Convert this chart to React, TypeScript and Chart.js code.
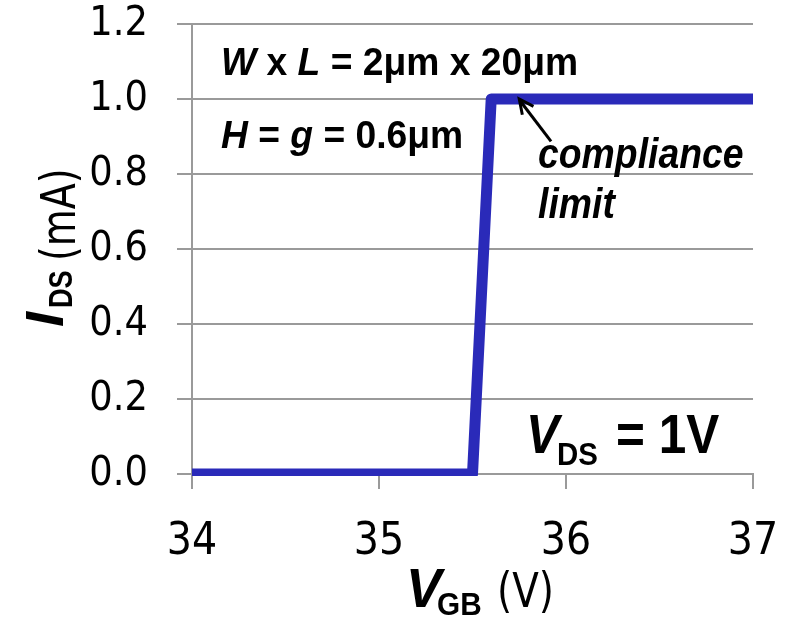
import React, { useEffect, useRef } from "react";
import { Chart, registerables } from "chart.js";

Chart.register(...registerables);

// ---- data ----
const vgbValues = [34, 35.5, 35.6, 37]; // V_GB (V)
const idsValues = [0, 0, 1.0, 1.0]; // I_DS (mA)
const xTickValues = [34, 35, 36, 37];
const yTickValues = [0, 0.2, 0.4, 0.6, 0.8, 1.0, 1.2];
const arrowTip = { x: 35.75, y: 1.0 };
const arrowTail = { x: 35.92, y: 0.887 };

const LINE_COLOR = "#2A2AB9";
const GRID_COLOR = "#9a9a9a";
const TICK_FONT = "'DejaVu Sans Condensed', 'DejaVu Sans', sans-serif";
const ARIAL = "'Liberation Sans', Arial, sans-serif";

type Run = { t: string; font: string; dx?: number; dy?: number; sx?: number };

function drawRuns(
  ctx: CanvasRenderingContext2D,
  runs: Run[],
  x: number,
  y: number,
  sxDefault: number
) {
  let cx = 0;
  for (const r of runs) {
    const sx = r.sx ?? sxDefault;
    ctx.font = r.font;
    const px = r.dx !== undefined ? r.dx : cx;
    ctx.save();
    ctx.translate(x + px, y + (r.dy || 0));
    ctx.scale(sx, 1);
    ctx.fillText(r.t, 0, 0);
    ctx.restore();
    cx = px + ctx.measureText(r.t).width * sx;
  }
}

const annotationPlugin = {
  id: "annotations",
  afterDraw(chart: any) {
    const ctx: CanvasRenderingContext2D = chart.ctx;
    const xs = chart.scales.x;
    const ys = chart.scales.y;
    ctx.save();
    ctx.fillStyle = "#000";
    ctx.textBaseline = "alphabetic";
    ctx.textAlign = "left";

    // W x L text
    const f39b = `bold 39px ${ARIAL}`;
    const f39bi = `italic bold 39px ${ARIAL}`;
    drawRuns(
      ctx,
      [
        { t: "W", font: f39bi },
        { t: " x ", font: f39b },
        { t: "L", font: f39bi },
        { t: " = 2\u03BCm x 20\u03BCm", font: f39b },
      ],
      221,
      75,
      0.955
    );
    drawRuns(
      ctx,
      [
        { t: "H", font: f39bi },
        { t: " = ", font: f39b },
        { t: "g", font: f39bi },
        { t: " = 0.6\u03BCm", font: f39b },
      ],
      221,
      148,
      0.955
    );

    // compliance limit
    const f42bi = `italic bold 42px ${ARIAL}`;
    drawRuns(ctx, [{ t: "compliance", font: f42bi }], 538, 168, 0.89);
    drawRuns(ctx, [{ t: "limit", font: f42bi }], 538, 218, 0.89);

    // arrow
    const tx = xs.getPixelForValue(arrowTip.x);
    const ty = ys.getPixelForValue(arrowTip.y);
    const sxp = xs.getPixelForValue(arrowTail.x);
    const syp = ys.getPixelForValue(arrowTail.y);
    ctx.strokeStyle = "#000";
    ctx.lineWidth = 3;
    ctx.lineCap = "butt";
    ctx.beginPath();
    ctx.moveTo(sxp, syp);
    ctx.lineTo(tx + 1, ty + 2);
    ctx.stroke();
    const ang = Math.atan2(ty - syp, tx - sxp);
    const hl = 16;
    ctx.beginPath();
    ctx.moveTo(tx + hl * Math.cos(ang + Math.PI - 0.45), ty + hl * Math.sin(ang + Math.PI - 0.45));
    ctx.lineTo(tx, ty);
    ctx.lineTo(tx + hl * Math.cos(ang + Math.PI + 0.45), ty + hl * Math.sin(ang + Math.PI + 0.45));
    ctx.stroke();

    // V_DS = 1V
    drawRuns(
      ctx,
      [
        { t: "V", font: `italic bold 55px ${ARIAL}`, dx: 0 },
        { t: "DS", font: `bold 32px ${ARIAL}`, dx: 31, dy: 12, sx: 0.92 },
        { t: "= 1V", font: `bold 55px ${ARIAL}`, dx: 90 },
      ],
      526,
      453,
      0.9
    );

    // x title
    drawRuns(
      ctx,
      [
        { t: "V", font: `italic bold 56px ${ARIAL}`, dx: 0, sx: 0.95 },
        { t: "GB", font: `bold 32px ${ARIAL}`, dx: 31, dy: 8, sx: 0.93 },
        { t: "(V)", font: `48px ${TICK_FONT}`, dx: 91, sx: 0.9 },
      ],
      406,
      607,
      1
    );

    // y title (rotated)
    ctx.save();
    ctx.translate(63, 325);
    ctx.rotate(-Math.PI / 2);
    drawRuns(
      ctx,
      [
        { t: "I", font: `italic bold 54px ${ARIAL}`, dx: -2, sx: 1 },
        { t: "DS", font: `bold 33px ${ARIAL}`, dx: 17, dy: 9, sx: 0.82 },
        { t: "(mA)", font: `48px ${TICK_FONT}`, dx: 64, dy: 12, sx: 0.88 },
      ],
      0,
      0,
      1
    );
    ctx.restore();

    ctx.restore();
  },
};

export default function App() {
  const ref = useRef<HTMLCanvasElement | null>(null);

  useEffect(() => {
    document.body.style.margin = "0";
    const canvas = ref.current;
    if (!canvas) return;
    const chart = new Chart(canvas, {
      type: "line",
      data: {
        datasets: [
          {
            data: vgbValues.map((v, i) => ({ x: v, y: idsValues[i] })),
            borderColor: LINE_COLOR,
            backgroundColor: LINE_COLOR,
            borderWidth: 11,
            pointRadius: 0,
            tension: 0,
            borderJoinStyle: "round",
            borderCapStyle: "butt",
            clip: { left: 0, top: 8, right: 0, bottom: 2 } as any,
          },
        ],
      },
      options: {
        animation: false,
        responsive: false,
        devicePixelRatio: 1,
        layout: { padding: { left: 0, top: 24, right: 37, bottom: 0 } },
        plugins: {
          legend: { display: false },
          tooltip: { enabled: false },
        },
        scales: {
          x: {
            type: "linear",
            min: 34,
            max: 37,
            afterBuildTicks: (s: any) => {
              s.ticks = xTickValues.map((v) => ({ value: v }));
            },
            afterFit: (s: any) => {
              s.height = 619 - 474;
              s.paddingLeft = 0;
              s.paddingRight = 0;
            },
            ticks: {
              color: "#000",
              font: { family: TICK_FONT, size: 44 },
              padding: 27,
              maxRotation: 0,
              autoSkip: false,
              callback: (v: any) => String(v),
            },
            grid: {
              display: true,
              drawOnChartArea: false,
              drawTicks: true,
              tickLength: 15,
              color: GRID_COLOR,
              lineWidth: 2,
            },
            border: { display: true, color: GRID_COLOR, width: 2 },
          },
          y: {
            type: "linear",
            min: 0,
            max: 1.2,
            afterBuildTicks: (s: any) => {
              s.ticks = yTickValues.map((v) => ({ value: v }));
            },
            afterFit: (s: any) => {
              s.width = 192;
              s.paddingTop = 0;
              s.paddingBottom = 0;
            },
            ticks: {
              color: "#000",
              font: { family: TICK_FONT, size: 41 },
              padding: 29,
              autoSkip: false,
              callback: (v: any) => Number(v).toFixed(1),
            },
            grid: {
              display: true,
              drawOnChartArea: true,
              drawTicks: true,
              tickLength: 15,
              color: GRID_COLOR,
              lineWidth: 2,
            },
            border: { display: true, color: GRID_COLOR, width: 2 },
          },
        },
      },
      plugins: [annotationPlugin],
    });
    return () => chart.destroy();
  }, []);

  return (
    <div style={{ width: 790, height: 619, background: "#fff" }}>
      <canvas ref={ref} width={790} height={619} style={{ display: "block" }} />
    </div>
  );
}
